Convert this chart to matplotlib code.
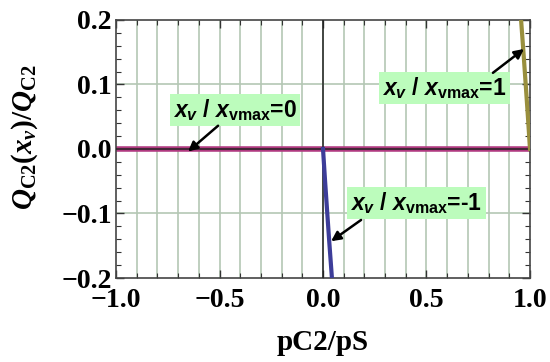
import numpy as np
import matplotlib
matplotlib.use("Agg")
import matplotlib.pyplot as plt
from matplotlib.ticker import MultipleLocator

plt.rcParams["mathtext.fontset"] = "custom"
plt.rcParams["mathtext.rm"] = "Liberation Serif:bold"
plt.rcParams["mathtext.it"] = "Liberation Serif:italic:bold"
plt.rcParams["mathtext.bf"] = "Liberation Sans:bold"
plt.rcParams["mathtext.bfit"] = "Liberation Sans:italic:bold"
plt.rcParams["mathtext.sf"] = "Liberation Sans:bold"

# curves, one per x_v / x_vmax value
x_m1 = [0.0, 0.010, 0.020, 0.030, 0.043]
y_m1 = [0.0, -0.05, -0.097, -0.143, -0.2]
x_0 = [-1.0, 1.0]
y_0 = [0.0, 0.0]
x_p1 = [1.0, 0.990, 0.980, 0.970, 0.957]
y_p1 = [0.0, 0.05, 0.097, 0.143, 0.2]

xticks = [-1.0, -0.5, 0.0, 0.5, 1.0]
yticks = [-0.2, -0.1, 0.0, 0.1, 0.2]

# annotations: label, arrow tip, text centre, arrow tail (data coords)
labels = ["0", "1", "-1"]
tips = [(-0.652, -0.004), (0.971, 0.155), (0.039, -0.143)]
text_pos = [(-0.425, 0.060), (0.587, 0.094), (0.450, -0.084)]
tails = [(-0.507, 0.036), (0.821, 0.118), (0.184, -0.110)]

blue = "#3d3d99"
magenta = "#b03a80"
olive = "#998f3d"
grid_c = "#b4c7b4"

fig = plt.figure(figsize=(5.5, 3.62), dpi=100)
ax = fig.add_axes([0.211, 0.232, 0.7526, 0.713])

for xv in np.arange(-0.9, 1.0, 0.1):
    ax.axvline(xv, color=grid_c, lw=1.2, zorder=0)
for yv in [-0.1, 0.0, 0.1]:
    ax.axhline(yv, color=grid_c, lw=1.2, zorder=0)

ax.plot(x_0, y_0, color=magenta, lw=4, solid_capstyle="butt", zorder=2)
ax.axhline(0, color="#222222", lw=1.1, zorder=3)
ax.axvline(0, color="#222222", lw=1.1, zorder=3)
ax.plot(x_m1, y_m1, color=blue, lw=3, zorder=4)
ax.plot(x_p1, y_p1, color=olive, lw=3, zorder=4)

for lab, tip, tp, tl in zip(labels, tips, text_pos, tails):
    ax.annotate("", xy=tip, xytext=tl,
                arrowprops=dict(arrowstyle="-|>", color="black", lw=1.8,
                                mutation_scale=14, shrinkA=0, shrinkB=0),
                zorder=6)
    s = (r"$\mathbfit{x}_{\mathbfit{v}}$ / $\mathbfit{x}_{\mathbf{vmax}}$="
         + lab)
    ax.text(tp[0], tp[1], s, fontsize=16.5, ha="center", va="center",
            fontfamily="Liberation Sans", fontweight="bold", zorder=5,
            bbox=dict(boxstyle="square,pad=0.15", fc="#bcfcbc", ec="none"))

ax.set_xlim(-1, 1)
ax.set_ylim(-0.2, 0.2)
ax.set_xticks(xticks)
ax.set_yticks(yticks)
ax.xaxis.set_minor_locator(MultipleLocator(0.1))
ax.yaxis.set_minor_locator(MultipleLocator(0.02))
ax.tick_params(which="both", direction="in", top=True, right=True,
               color="#333333")
ax.tick_params(which="major", length=6, width=1.0, labelsize=20, pad=3)
ax.tick_params(axis="x", which="major", pad=7)
ax.tick_params(which="minor", length=3.5, width=0.8)
ax.set_xticklabels([f"{v:.1f}".replace("-", "\u2212") for v in xticks])
ax.set_yticklabels([f"{v:.1f}".replace("-", "\u2212") for v in yticks])
for lbl in ax.get_xticklabels() + ax.get_yticklabels():
    lbl.set_fontfamily("Liberation Serif")
    lbl.set_fontweight("bold")
for sp in ax.spines.values():
    sp.set_color("#444444")
    sp.set_linewidth(1.2)

ax.set_xlabel("pC2/pS", fontsize=21, fontfamily="Liberation Serif",
              fontweight="bold", labelpad=12)
fig.text(0.045, 0.62,
         r"$\mathit{Q}_{\mathrm{C2}}(\mathit{x}_{\mathit{v}})/\mathit{Q}_{\mathrm{C2}}$",
         rotation=90, fontsize=21, ha="center", va="center")

fig.savefig("out.png", dpi=100)
